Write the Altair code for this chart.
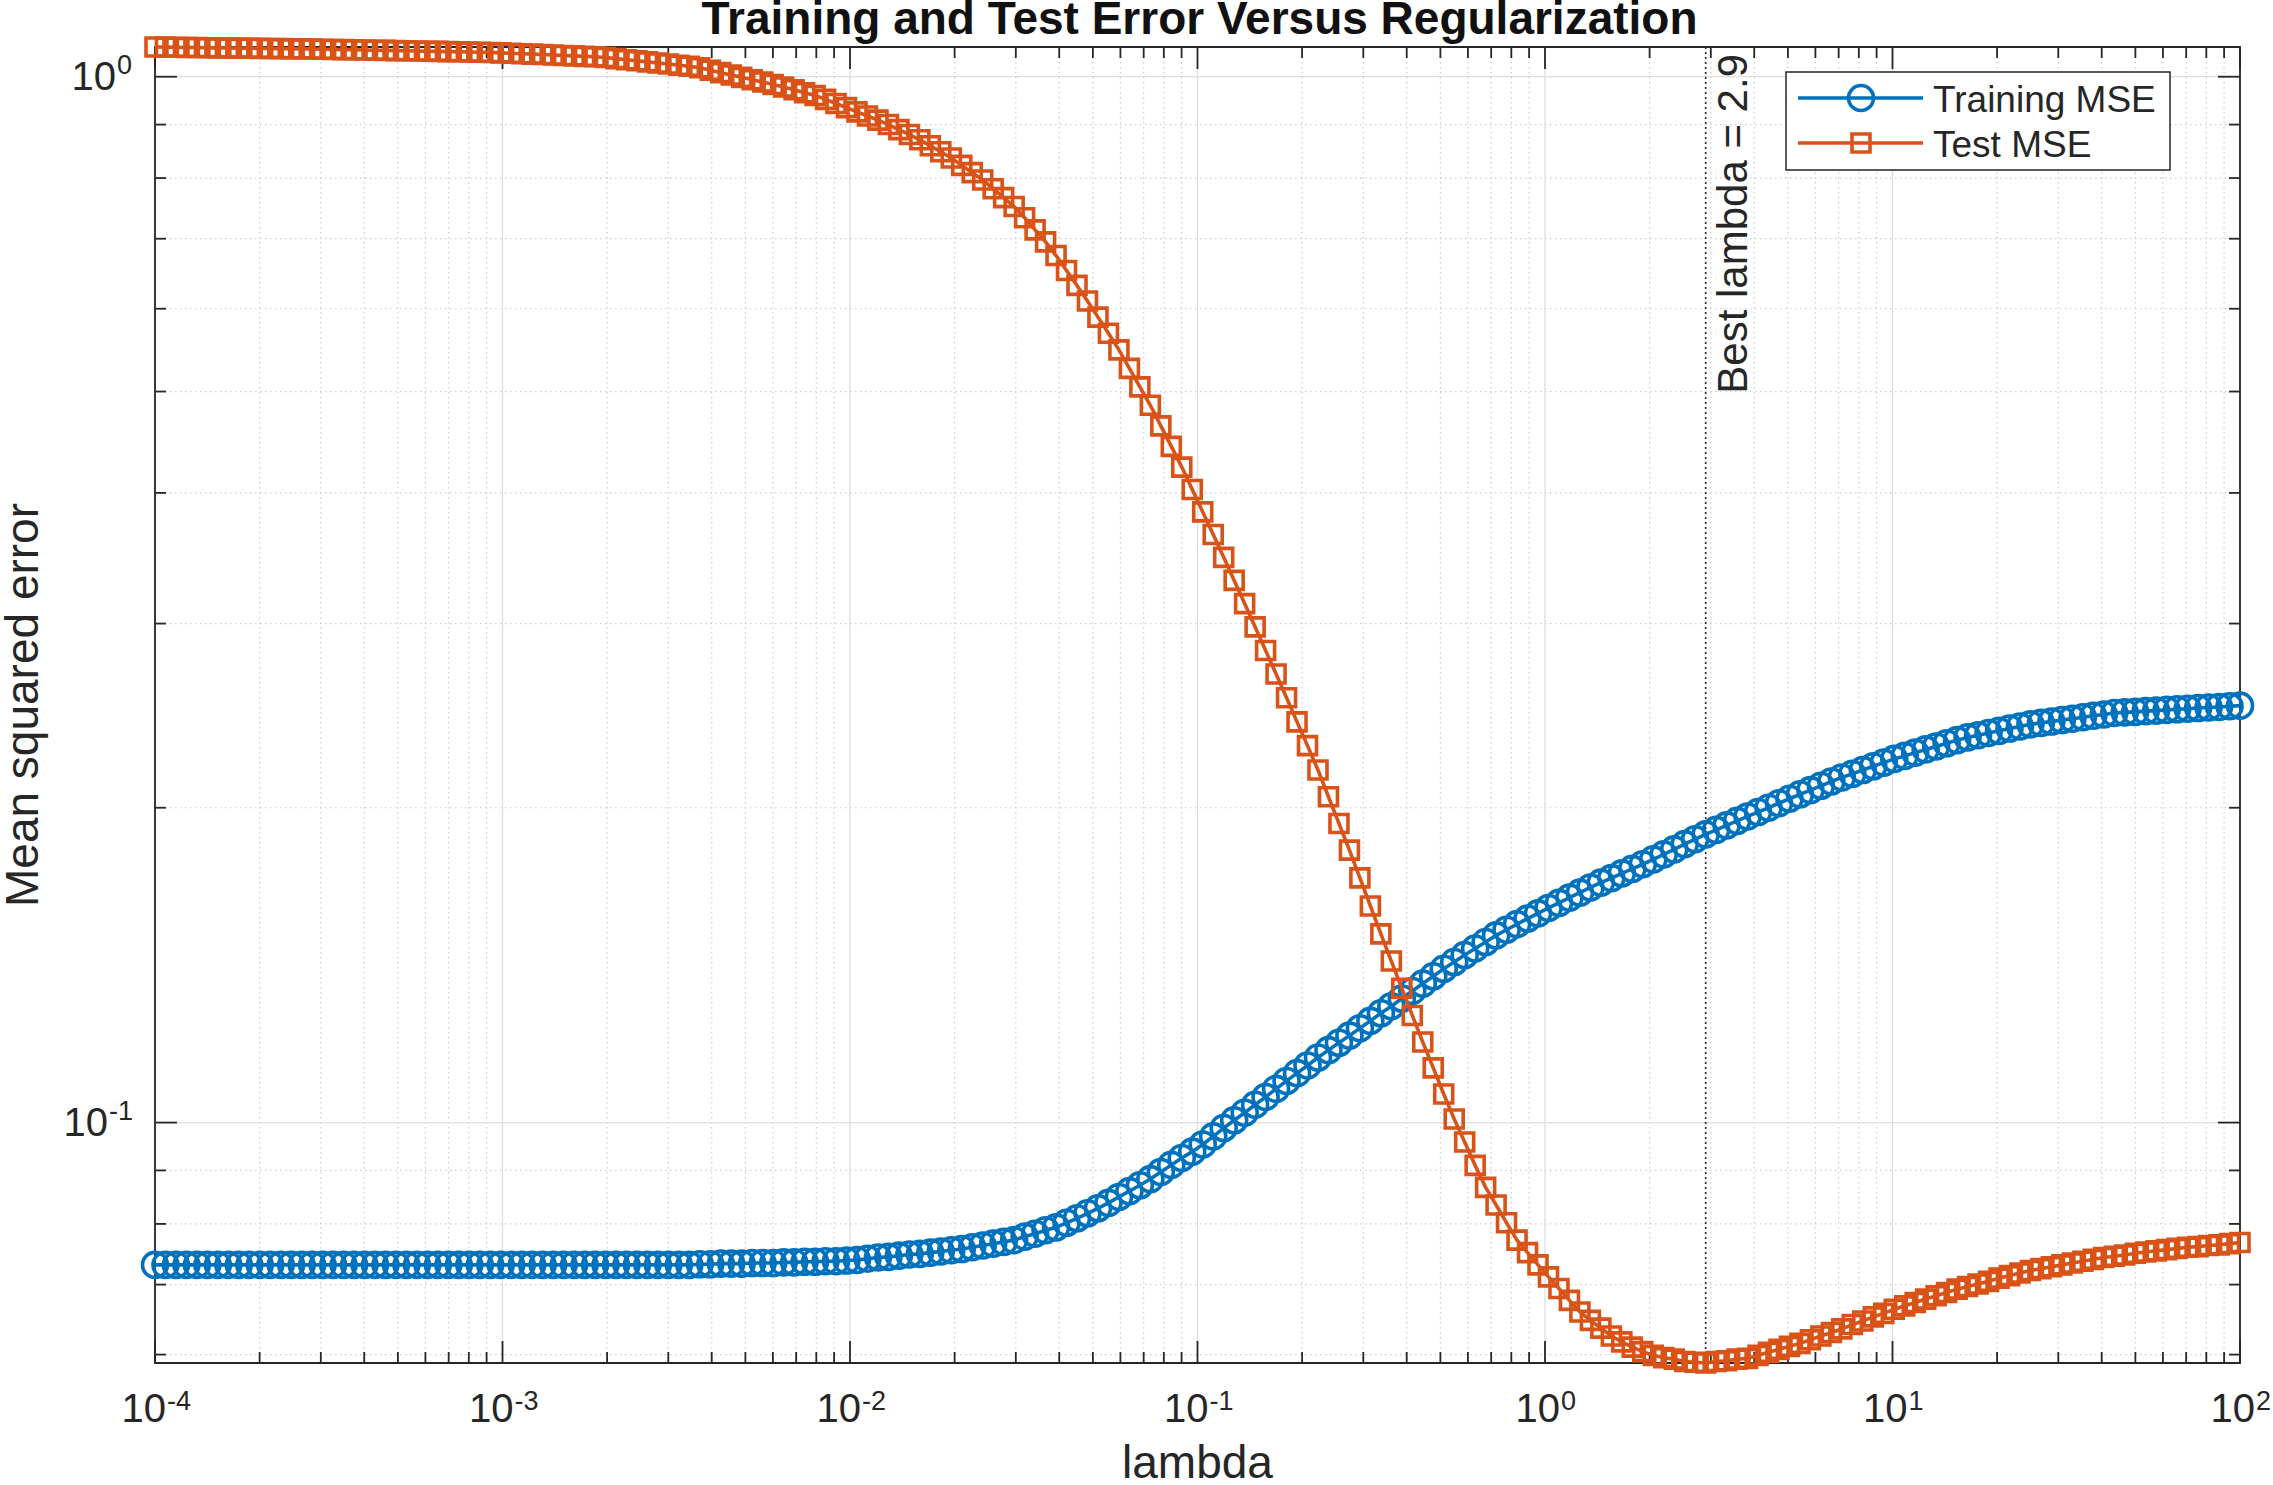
import altair as alt
import numpy as np
import pandas as pd

# Regularization grid: 200 log-spaced lambda values between 1e-4 and 1e2
lambda_exp_lo, lambda_exp_hi, n_lambda = -4, 2, 200
lambdas = np.logspace(lambda_exp_lo, lambda_exp_hi, n_lambda)

train_mse = [
    0.0731, 0.0731, 0.0731, 0.0731, 0.0731, 0.0731, 0.0731, 0.0731, 0.0731, 0.0731,
    0.0731, 0.0731, 0.0731, 0.0731, 0.0731, 0.0731, 0.0731, 0.0731, 0.0731, 0.0731,
    0.0731, 0.0731, 0.0731, 0.0731, 0.0731, 0.0731, 0.0731, 0.0731, 0.0731, 0.0731,
    0.0731, 0.0731, 0.0731, 0.0731, 0.0731, 0.0731, 0.0731, 0.0731, 0.0731, 0.0731,
    0.0731, 0.0731, 0.0731, 0.0731, 0.0731, 0.0731, 0.0731, 0.0731, 0.0731, 0.0731,
    0.0731, 0.0731, 0.0732, 0.0732, 0.0733, 0.0733, 0.0733, 0.0734, 0.0734, 0.0734,
    0.0735, 0.0735, 0.0736, 0.0736, 0.0737, 0.0737, 0.0738, 0.0739, 0.0741, 0.0743,
    0.0744, 0.0746, 0.0748, 0.0749, 0.0751, 0.0753, 0.0755, 0.0757, 0.0760, 0.0763,
    0.0766, 0.0769, 0.0772, 0.0778, 0.0783, 0.0789, 0.0794, 0.0802, 0.0810, 0.0819,
    0.0828, 0.0838, 0.0849, 0.0860, 0.0871, 0.0883, 0.0897, 0.0911, 0.0925, 0.0938,
    0.0953, 0.0970, 0.0988, 0.1005, 0.1022, 0.1040, 0.1058, 0.1077, 0.1096, 0.1115,
    0.1134, 0.1154, 0.1173, 0.1192, 0.1211, 0.1231, 0.1251, 0.1272, 0.1292, 0.1314,
    0.1336, 0.1358, 0.1380, 0.1403, 0.1424, 0.1446, 0.1467, 0.1488, 0.1510, 0.1529,
    0.1548, 0.1567, 0.1585, 0.1604, 0.1622, 0.1641, 0.1659, 0.1678, 0.1696, 0.1713,
    0.1731, 0.1748, 0.1766, 0.1785, 0.1805, 0.1825, 0.1846, 0.1866, 0.1886, 0.1905,
    0.1924, 0.1943, 0.1962, 0.1981, 0.2000, 0.2020, 0.2040, 0.2060, 0.2079, 0.2099,
    0.2119, 0.2138, 0.2155, 0.2173, 0.2191, 0.2209, 0.2227, 0.2242, 0.2258, 0.2274,
    0.2289, 0.2305, 0.2321, 0.2335, 0.2346, 0.2358, 0.2369, 0.2381, 0.2392, 0.2403,
    0.2411, 0.2418, 0.2426, 0.2433, 0.2441, 0.2449, 0.2456, 0.2464, 0.2467, 0.2470,
    0.2474, 0.2477, 0.2481, 0.2484, 0.2487, 0.2491, 0.2494, 0.2497, 0.2501, 0.2504,
]

test_mse = [
    1.0676, 1.0673, 1.0669, 1.0666, 1.0663, 1.0660, 1.0656, 1.0653, 1.0650, 1.0647,
    1.0644, 1.0641, 1.0638, 1.0634, 1.0631, 1.0629, 1.0624, 1.0619, 1.0615, 1.0610,
    1.0605, 1.0601, 1.0596, 1.0591, 1.0587, 1.0582, 1.0578, 1.0573, 1.0568, 1.0564,
    1.0559, 1.0554, 1.0549, 1.0539, 1.0529, 1.0520, 1.0510, 1.0500, 1.0489, 1.0479,
    1.0469, 1.0459, 1.0450, 1.0433, 1.0406, 1.0382, 1.0356, 1.0332, 1.0306, 1.0283,
    1.0257, 1.0233, 1.0198, 1.0144, 1.0090, 1.0039, 0.9986, 0.9934, 0.9883, 0.9831,
    0.9777, 0.9716, 0.9654, 0.9594, 0.9513, 0.9428, 0.9342, 0.9256, 0.9172, 0.9088,
    0.9000, 0.8901, 0.8805, 0.8703, 0.8590, 0.8476, 0.8362, 0.8227, 0.8096, 0.7967,
    0.7814, 0.7663, 0.7514, 0.7331, 0.7138, 0.6951, 0.6745, 0.6527, 0.6316, 0.6104,
    0.5890, 0.5684, 0.5481, 0.5262, 0.5052, 0.4851, 0.4636, 0.4431, 0.4234, 0.4030,
    0.3836, 0.3650, 0.3471, 0.3299, 0.3135, 0.2978, 0.2827, 0.2685, 0.2548, 0.2416,
    0.2293, 0.2173, 0.2049, 0.1932, 0.1822, 0.1714, 0.1611, 0.1515, 0.1427, 0.1344,
    0.1266, 0.1194, 0.1128, 0.1065, 0.1008, 0.0958, 0.0910, 0.0867, 0.0834, 0.0802,
    0.0772, 0.0751, 0.0731, 0.0712, 0.0694, 0.0676, 0.0659, 0.0647, 0.0636, 0.0625,
    0.0617, 0.0610, 0.0604, 0.0599, 0.0596, 0.0594, 0.0591, 0.0590, 0.0589, 0.0591,
    0.0592, 0.0594, 0.0595, 0.0599, 0.0603, 0.0607, 0.0611, 0.0615, 0.0620, 0.0625,
    0.0630, 0.0635, 0.0641, 0.0646, 0.0652, 0.0657, 0.0663, 0.0668, 0.0673, 0.0678,
    0.0683, 0.0688, 0.0693, 0.0697, 0.0701, 0.0705, 0.0710, 0.0714, 0.0718, 0.0722,
    0.0725, 0.0728, 0.0731, 0.0734, 0.0737, 0.0740, 0.0743, 0.0745, 0.0747, 0.0750,
    0.0752, 0.0754, 0.0756, 0.0758, 0.0760, 0.0761, 0.0763, 0.0764, 0.0766, 0.0768,
]

best_lambda = 2.9
x_tick_exponents = [-4, -3, -2, -1, 0, 1, 2]
y_tick_exponents = [-1, 0]
series_names = ["Training MSE", "Test MSE"]
title_text = "Training and Test Error Versus Regularization"
x_title = "lambda"
y_title = "Mean squared error"

# ---- styling -------------------------------------------------------------
W, H = 2085, 1316
BLUE, ORANGE = "#0072BD", "#D95319"
INK = "#262626"
FONT = "Liberation Sans"
TICK_FS, EXP_FS = 40, 27
LINE_W, MARK_W = 3.6, 3.6

# tight limits on both axes
y_lo = min(min(train_mse), min(test_mse))
y_hi = max(max(train_mse), max(test_mse))
x_scale = alt.Scale(type="log", domain=[10.0 ** lambda_exp_lo, 10.0 ** lambda_exp_hi], nice=False)
y_scale = alt.Scale(type="log", domain=[y_lo, y_hi], nice=False, zero=False)

curves = pd.DataFrame({"lambda": lambdas, "train": train_mse, "test": test_mse})
one = pd.DataFrame({"k": [0]})

x_major = [10.0 ** e for e in x_tick_exponents]
x_minor = [k * 10.0 ** e for e in x_tick_exponents[:-1] for k in range(2, 10)]
y_major = [10.0 ** e for e in y_tick_exponents]
y_minor = [k * 10.0 ** e for e in range(y_tick_exponents[0] - 1, y_tick_exponents[-1] + 1)
           for k in range(2, 10)]
y_minor = [v for v in y_minor if y_lo <= v <= y_hi]


def xf(field):
    return alt.X(field, scale=x_scale, axis=None)


def yf(field):
    return alt.Y(field, scale=y_scale, axis=None)


def xrules(values, y0, y1, **style):
    return alt.Chart(pd.DataFrame({"v": values})).mark_rule(**style).encode(
        x=xf("v:Q"), y=alt.value(y0), y2=alt.value(y1))


def yrules(values, x0, x1, **style):
    return alt.Chart(pd.DataFrame({"v": values})).mark_rule(**style).encode(
        y=yf("v:Q"), x=alt.value(x0), x2=alt.value(x1))


major_grid = dict(color="#dedede", strokeWidth=1.3)
minor_grid = dict(color="#cdcdcd", strokeWidth=1.2, strokeDash=[1.5, 3.5])
tick = dict(color=INK, strokeWidth=1.8)

layers = [
    xrules(x_minor, 0, H, **minor_grid),
    yrules(y_minor, 0, W, **minor_grid),
    xrules(x_major, 0, H, **major_grid),
    yrules(y_major, 0, W, **major_grid),
    # box and inward ticks on all four sides
    alt.Chart(one).mark_rect(fillOpacity=0, stroke=INK, strokeWidth=1.8).encode(
        x=alt.value(0), x2=alt.value(W), y=alt.value(0), y2=alt.value(H)),
    xrules(x_major, H, H - 22, **tick),
    xrules(x_major, 0, 22, **tick),
    xrules(x_minor, H, H - 11, **tick),
    xrules(x_minor, 0, 11, **tick),
    yrules(y_major, 0, 22, **tick),
    yrules(y_major, W, W - 22, **tick),
    yrules(y_minor, 0, 11, **tick),
    yrules(y_minor, W, W - 11, **tick),
    # best lambda marker line
    xrules([best_lambda], 0, H, color=INK, strokeWidth=1.6, strokeDash=[2, 3]),
]

# curves: line first, then open markers, series by series
for col, color, shape, size in [("train", BLUE, "circle", 625), ("test", ORANGE, "square", 324)]:
    layers.append(alt.Chart(curves).mark_line(color=color, strokeWidth=LINE_W).encode(
        x=xf("lambda:Q"), y=yf(f"{col}:Q")))
    layers.append(alt.Chart(curves).mark_point(
        shape=shape, filled=False, size=size, strokeWidth=MARK_W, color=color, opacity=1).encode(
        x=xf("lambda:Q"), y=yf(f"{col}:Q")))

# tick labels as 10 with a raised exponent
def x_labels(exps, base_dx):
    df = pd.DataFrame({"v": [10.0 ** e for e in exps], "base": ["10"] * len(exps),
                       "exp": [str(e) for e in exps]})
    base = alt.Chart(df).mark_text(align="right", baseline="alphabetic", font=FONT,
                                   fontSize=TICK_FS, color=INK, dx=base_dx).encode(
        x=xf("v:Q"), y=alt.value(1375), text="base:N")
    sup = alt.Chart(df).mark_text(align="left", baseline="alphabetic", font=FONT,
                                  fontSize=EXP_FS, color=INK, dx=base_dx + 1).encode(
        x=xf("v:Q"), y=alt.value(1363), text="exp:N")
    return [base, sup]


def y_labels(exps, base_x):
    df = pd.DataFrame({"v": [10.0 ** e for e in exps], "base": ["10"] * len(exps),
                       "exp": [str(e) for e in exps]})
    base = alt.Chart(df).mark_text(align="right", baseline="alphabetic", font=FONT,
                                   fontSize=TICK_FS, color=INK, dy=13).encode(
        y=yf("v:Q"), x=alt.value(base_x), text="base:N")
    sup = alt.Chart(df).mark_text(align="left", baseline="alphabetic", font=FONT,
                                  fontSize=EXP_FS, color=INK, dy=-3).encode(
        y=yf("v:Q"), x=alt.value(base_x + 1), text="exp:N")
    return [base, sup]


layers += x_labels([e for e in x_tick_exponents if e < 0], 11)
layers += x_labels([e for e in x_tick_exponents if e >= 0], 15)
layers += y_labels([e for e in y_tick_exponents if e < 0], -47)
layers += y_labels([e for e in y_tick_exponents if e >= 0], -39)

# titles
layers.append(alt.Chart(one).mark_text(
    text=title_text, font=FONT, fontSize=46, fontWeight="bold", color="#111111",
    align="center", baseline="alphabetic").encode(x=alt.value(W / 2 + 2), y=alt.value(-13)))
layers.append(alt.Chart(one).mark_text(
    text=x_title, font=FONT, fontSize=46, color=INK, align="center",
    baseline="alphabetic").encode(x=alt.value(W / 2), y=alt.value(1431)))
layers.append(alt.Chart(one).mark_text(
    text=y_title, font=FONT, fontSize=46, color=INK, align="center", angle=270,
    baseline="alphabetic").encode(x=alt.value(-117), y=alt.value(H / 2)))

# label of the best lambda line, reading upward on its right side
layers.append(alt.Chart(pd.DataFrame({"v": [best_lambda]})).mark_text(
    text=f"Best lambda = {best_lambda}", font=FONT, fontSize=42, color=INK,
    angle=270, align="right", baseline="top", dy=8).encode(
    x=xf("v:Q"), y=alt.value(7)))

# legend box
LX0, LX1, LY0, LY1 = 1631, 2015, 25, 123
layers.append(alt.Chart(one).mark_rect(fill="white", stroke=INK, strokeWidth=1.5).encode(
    x=alt.value(LX0), x2=alt.value(LX1), y=alt.value(LY0), y2=alt.value(LY1)))
for name, color, shape, size, ly in [(series_names[0], BLUE, "circle", 625, 51),
                                     (series_names[1], ORANGE, "square", 324, 96)]:
    layers.append(alt.Chart(one).mark_rule(color=color, strokeWidth=LINE_W).encode(
        x=alt.value(1643), x2=alt.value(1768), y=alt.value(ly)))
    layers.append(alt.Chart(one).mark_point(
        shape=shape, filled=False, size=size, strokeWidth=MARK_W, color=color, opacity=1).encode(
        x=alt.value(1706), y=alt.value(ly)))
    layers.append(alt.Chart(one).mark_text(
        text=name, font=FONT, fontSize=37, color=INK, align="left",
        baseline="alphabetic").encode(x=alt.value(1778), y=alt.value(ly + 13.5)))

chart = alt.layer(*layers).properties(
    width=W, height=H,
    padding={"left": 155, "top": 47, "right": 33, "bottom": 122},
    autosize=alt.AutoSizeParams(type="none"),
    background="white",
).configure_view(strokeWidth=0)

chart.save("out.html", embed_options={"renderer": "svg", "actions": False})
